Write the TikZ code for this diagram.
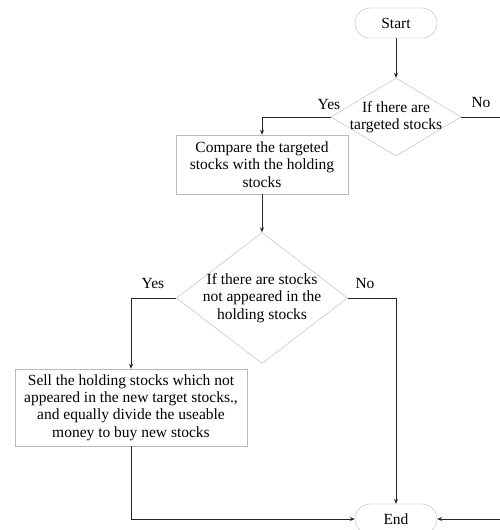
\documentclass[tikz,border=0pt]{standalone}
\usepackage{fontspec}
\setmainfont{Liberation Serif}
\usetikzlibrary{positioning, arrows.meta, shapes.geometric}
\newcommand{\flowfont}{\fontsize{15.5}{17.3}\selectfont}

\begin{document}
\begin{tikzpicture}[
        x=1pt, y=-1pt,
        >={Stealth[length=5pt, width=4pt]},
        terminal/.style={draw=gray!55, rectangle, rounded corners=15pt, minimum width=82pt, minimum height=30pt, inner sep=0pt, font=\flowfont},
        process/.style={draw=gray!55, rectangle, align=center, inner sep=0pt, font=\flowfont},
        decision/.style={draw=gray!55, diamond, inner sep=0pt},
        label_text/.style={align=center, font=\flowfont},
        flow/.style={draw=black!85, line width=0.8pt}
        ]

        \clip (0,0) rectangle (500,530);

        % Nodes
        \node[terminal] (Start) at (396,23) {Start};
        \node[decision, minimum width=130pt, minimum height=78pt] (Targeted) at (396,117) {};
        \node[label_text] (TargetedText) at (Targeted) {If there are\\targeted stocks};
        \node[process, minimum width=172pt, minimum height=59pt] (Compare) at (262,164.5) {Compare the targeted\\stocks with the holding\\stocks};
        \node[decision, minimum width=171pt, minimum height=131pt] (NotHeld) at (262,298) {};
        \node[label_text] (NotHeldText) at (NotHeld) {If there are stocks\\not appeared in the\\holding stocks};
        \node[process, minimum width=232pt, minimum height=77pt] (Sell) at (131,407.5) {Sell the holding stocks which not\\appeared in the new target stocks.,\\and equally divide the useable\\money to buy new stocks};
        \node[terminal] (End) at (396,519) {End};

        % Branch labels
        \node[label_text] (YesTargeted) at (329,104) {Yes};
        \node[label_text] (NoTargeted) at (481,102) {No};
        \node[label_text] (YesNotHeld) at (153,283) {Yes};
        \node[label_text] (NoNotHeld) at (365,283) {No};

        % Off-page turn for the first No branch
        \coordinate (OffRight) at (515,117);

        % Arrows
        \draw[flow, ->] (Start) -- (Targeted);
        \draw[flow, ->] (Targeted.west) -| (Compare.north);
        \draw[flow, ->] (Targeted.east) -- (OffRight) |- (End.east);
        \draw[flow, ->] (Compare) -- (NotHeld);
        \draw[flow, ->] (NotHeld.west) -| (Sell.north);
        \draw[flow, ->] (NotHeld.east) -| (End.north);
        \draw[flow, ->] (Sell.south) |- (End.west);

    \end{tikzpicture}
\end{document}
